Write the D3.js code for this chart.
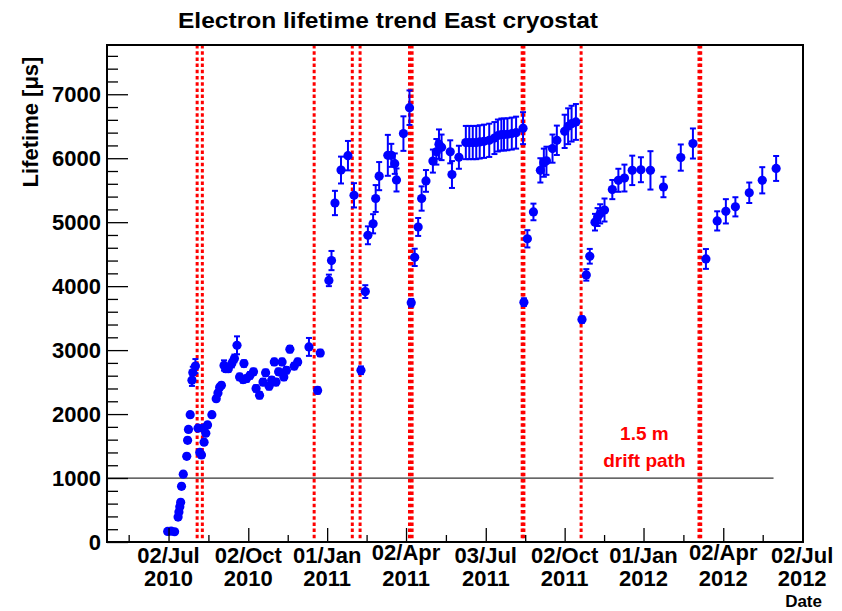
<!DOCTYPE html>
<html>
<head>
<meta charset="utf-8">
<script src="https://cdn.jsdelivr.net/npm/d3@7"></script>
<style>
  html, body { margin: 0; padding: 0; background: #fff; }
  svg { display: block; }
  text { font-family: "Liberation Sans", Arial, Helvetica, sans-serif; font-weight: bold; }
</style>
</head>
<body>
<svg id="chart" width="842" height="611"></svg>
<script>
// Measurement dates (UTC, YYYY-MM-DD)
const dates = [
  "2010-07-01","2010-07-05","2010-07-09","2010-07-13","2010-07-14","2010-07-15","2010-07-16","2010-07-17",
  "2010-07-19","2010-07-23","2010-07-24","2010-07-25","2010-07-27","2010-07-29","2010-07-30","2010-08-02",
  "2010-08-05","2010-08-07","2010-08-09","2010-08-11","2010-08-12","2010-08-14","2010-08-16","2010-08-21",
  "2010-08-26","2010-08-28","2010-08-30","2010-09-01","2010-09-04","2010-09-06","2010-09-09","2010-09-13",
  "2010-09-16","2010-09-19","2010-09-22","2010-09-26","2010-09-27","2010-09-30","2010-10-04","2010-10-08",
  "2010-10-11","2010-10-15","2010-10-19","2010-10-22","2010-10-26","2010-10-29","2010-11-01","2010-11-03",
  "2010-11-06","2010-11-10","2010-11-12","2010-11-15","2010-11-19","2010-11-24","2010-11-28","2010-12-11",
  "2010-12-21","2010-12-24",
  "2011-01-03","2011-01-06","2011-01-10","2011-01-17","2011-01-25","2011-02-01","2011-02-09","2011-02-14",
  "2011-02-17","2011-02-23","2011-02-26","2011-03-02","2011-03-12","2011-03-16","2011-03-20","2011-03-22",
  "2011-03-30","2011-04-06","2011-04-08","2011-04-12","2011-04-16","2011-04-20","2011-04-25","2011-05-03",
  "2011-05-07","2011-05-10","2011-05-13","2011-05-23","2011-05-25","2011-06-02","2011-06-10","2011-06-14",
  "2011-06-18","2011-06-22","2011-06-26","2011-07-01","2011-07-07","2011-07-13","2011-07-17","2011-07-21",
  "2011-07-24","2011-07-28","2011-08-02","2011-08-07","2011-08-15","2011-08-16","2011-08-20","2011-08-27",
  "2011-09-04","2011-09-08","2011-09-11","2011-09-18","2011-09-23","2011-10-02","2011-10-06","2011-10-10",
  "2011-10-15","2011-10-22","2011-10-27","2011-10-31","2011-11-06","2011-11-09","2011-11-12","2011-11-17",
  "2011-11-26","2011-12-03","2011-12-10","2011-12-19","2011-12-29",
  "2012-01-09","2012-01-24","2012-02-13","2012-02-27","2012-03-13","2012-03-26","2012-04-05","2012-04-16",
  "2012-05-02","2012-05-17","2012-06-02"
];

// Electron lifetime [us]
const lifetimes = [
  165, 170, 160, 390, 470, 550, 620, 870,
  1060, 1340, 1590, 1760, 1990, 2530, 2650, 2750,
  1780, 1400, 1360, 1780, 1560, 1700, 1830, 1990,
  2240, 2330, 2420, 2450, 2760, 2710, 2710, 2790,
  2870, 3075, 2580, 2540, 2790, 2555, 2605, 2660,
  2400, 2295, 2500, 2645, 2435, 2530, 2815, 2500,
  2660, 2815, 2580, 2685, 3015, 2750, 2815, 3050,
  2370, 2955,
  4090, 4400, 5300, 5815, 6040, 5420, 2685, 3915,
  4795, 4975, 5370, 5720, 6045, 6045, 5915, 5660,
  6385, 6790, 3740, 4450, 4925, 5370, 5645, 5955,
  6100, 6220, 6170, 6100, 5745, 6015, 6245, 6245,
  6245, 6245, 6255, 6265, 6280, 6315, 6355, 6370,
  6370, 6375, 6385, 6400, 6470, 3750, 4740, 5160,
  5810, 5930, 5960, 6150, 6280, 6420, 6500, 6540,
  6567, 3477, 4176, 4467, 5000, 5080, 5130, 5190,
  5510, 5655, 5690, 5810, 5820,
  5810, 5550, 6010, 6230, 4425, 5020, 5170, 5240,
  5460, 5655, 5840
];

// Uncertainty on each lifetime [us]
const errors = [
  30, 30, 30, 40, 40, 40, 40, 40,
  40, 40, 40, 40, 40, 90, 90, 110,
  40, 40, 40, 40, 40, 40, 40, 40,
  40, 40, 40, 40, 80, 50, 50, 60,
  60, 140, 50, 50, 50, 50, 50, 50,
  50, 50, 50, 50, 50, 50, 50, 50,
  50, 50, 50, 50, 50, 50, 50, 140,
  50, 50,
  90, 150, 190, 210, 230, 190, 60, 100,
  140, 150, 210, 220, 320, 180, 160, 180,
  270, 270, 60, 135, 140, 190, 170, 180,
  200, 230, 200, 180, 210, 180, 260, 260,
  260, 260, 260, 260, 260, 250, 250, 250,
  250, 250, 250, 250, 250, 60, 135, 130,
  190, 220, 220, 220, 230, 260, 280, 280,
  280, 50, 90, 115, 130, 140, 150, 180,
  150, 180, 210, 230, 195,
  300, 160, 205, 235, 155, 150, 190, 150,
  160, 205, 195
];

// Interventions on the cryostat (vertical markers)
const eventDates = [
  "2010-08-04","2010-08-10","2010-12-17","2011-01-30","2011-02-08",
  "2011-04-06","2011-04-09","2011-08-14","2011-08-16","2011-10-21",
  "2012-03-05","2012-03-07"
];

// Time-axis labels
const tickDates = ["2010-07-02","2010-10-02","2011-01-01","2011-04-02","2011-07-03",
                   "2011-10-02","2012-01-01","2012-04-02","2012-07-02"];
const tickDayLabels = ["02/Jul","02/Oct","01/Jan","02/Apr","03/Jul","02/Oct","01/Jan","02/Apr","02/Jul"];
const tickYearLabels = ["2010","2010","2011","2011","2011","2011","2012","2012","2012"];

const yMajorTicks = [0, 1000, 2000, 3000, 4000, 5000, 6000, 7000];

// Reference level for the 1.5 m drift path
const driftLevel = 1000;
const driftLineEnd = "2012-05-30";
const driftLabelDate = "2012-01-02";
const driftLabelLines = ["1.5 m", "drift path"];
const driftLabelValues = [1590, 1175];

const parse = d3.utcParse("%Y-%m-%d");
const points = dates.map((d, i) => ({ t: parse(d), v: lifetimes[i], e: errors[i] }));

const svg = d3.select("#chart");
const L = 107, R = 803, T = 45, B = 542;

const x = d3.scaleUtc()
  .domain([parse("2010-04-22"), parse("2012-07-03")])
  .range([L, R]);
const y = d3.scaleLinear().domain([0, 7770]).range([B, T]);

// Title
svg.append("text")
  .attr("x", 388).attr("y", 28)
  .attr("text-anchor", "middle")
  .attr("font-size", 22)
  .attr("textLength", 420)
  .attr("lengthAdjust", "spacingAndGlyphs")
  .text("Electron lifetime trend East cryostat");

// Reference line at 1000 us
svg.append("line")
  .attr("x1", x.range()[0]).attr("x2", x(parse(driftLineEnd)))
  .attr("y1", y(driftLevel)).attr("y2", y(driftLevel))
  .attr("stroke", "#333").attr("stroke-width", 1.2);

// Event markers
svg.append("g").selectAll("line")
  .data(eventDates.map(parse))
  .join("line")
  .attr("x1", d => x(d)).attr("x2", d => x(d))
  .attr("y1", T).attr("y2", B)
  .attr("stroke", "#ff0000").attr("stroke-width", 3)
  .attr("stroke-dasharray", "3.5,2.7");

// Drift path annotation
svg.append("g").selectAll("text")
  .data(driftLabelLines)
  .join("text")
  .attr("x", x(parse(driftLabelDate)))
  .attr("y", (d, i) => y(driftLabelValues[i]))
  .attr("text-anchor", "middle")
  .attr("font-size", 19)
  .attr("fill", "#ff0000")
  .text(d => d);

// Error bars with end caps
const eb = svg.append("g").attr("stroke", "#0000ff").attr("stroke-width", 2);
eb.selectAll("line.bar")
  .data(points)
  .join("line").attr("class", "bar")
  .attr("x1", d => x(d.t)).attr("x2", d => x(d.t))
  .attr("y1", d => y(d.v - d.e)).attr("y2", d => y(d.v + d.e));
eb.selectAll("line.capHi")
  .data(points)
  .join("line").attr("class", "capHi")
  .attr("x1", d => x(d.t) - 3).attr("x2", d => x(d.t) + 3)
  .attr("y1", d => y(d.v + d.e)).attr("y2", d => y(d.v + d.e));
eb.selectAll("line.capLo")
  .data(points)
  .join("line").attr("class", "capLo")
  .attr("x1", d => x(d.t) - 3).attr("x2", d => x(d.t) + 3)
  .attr("y1", d => y(d.v - d.e)).attr("y2", d => y(d.v - d.e));

// Markers
svg.append("g").selectAll("circle")
  .data(points)
  .join("circle")
  .attr("cx", d => x(d.t)).attr("cy", d => y(d.v))
  .attr("r", 4.6)
  .attr("fill", "#0000ff");

// Y axis
const yAxis = d3.axisRight(y)
  .tickValues(d3.range(0, 7770, 200))
  .tickSize(0)
  .tickFormat("");
const gy = svg.append("g").attr("transform", `translate(${L},0)`).call(yAxis);
gy.select(".domain").remove();
gy.selectAll(".tick line")
  .attr("x2", d => (d % 1000 === 0 ? 21 : 11))
  .attr("stroke", "#000").attr("stroke-width", 1.3);
svg.append("g").selectAll("text")
  .data(yMajorTicks)
  .join("text")
  .attr("x", 101).attr("y", d => y(d))
  .attr("dy", "0.36em")
  .attr("text-anchor", "end")
  .attr("font-size", 22)
  .text(d => d);

// X axis: major ticks at the labels, secondary ticks halfway between
const majorT = tickDates.map(parse);
const half = (majorT[1] - majorT[0]) / 2;
const minorT = [new Date(+majorT[0] - half)].concat(
  majorT.slice(1).map((t, i) => new Date((+t + +majorT[i]) / 2)));
const xAxis = d3.axisTop(x).tickValues(majorT.concat(minorT)).tickSize(0).tickFormat("");
const gx = svg.append("g").attr("transform", `translate(0,${B})`).call(xAxis);
gx.select(".domain").remove();
gx.selectAll(".tick line")
  .attr("y2", (d, i) => (i < majorT.length ? -14 : -7))
  .attr("stroke", "#000").attr("stroke-width", 1.3);

const xl = svg.append("g").selectAll("g")
  .data(majorT)
  .join("g")
  .attr("transform", d => `translate(${x(d)},0)`);
// the "Apr" labels sit a little higher, as the plotting package set them
xl.append("text")
  .attr("y", (d, i) => (tickDayLabels[i].includes("Apr") ? 560 : 563))
  .attr("text-anchor", "middle").attr("font-size", 22)
  .text((d, i) => tickDayLabels[i]);
xl.append("text")
  .attr("y", 586).attr("text-anchor", "middle").attr("font-size", 22)
  .text((d, i) => tickYearLabels[i]);

// Frame
svg.append("rect")
  .attr("x", L).attr("y", T).attr("width", R - L).attr("height", B - T)
  .attr("fill", "none").attr("stroke", "#000").attr("stroke-width", 2);

// Axis titles
svg.append("text")
  .attr("transform", `translate(38,${122}) rotate(-90)`)
  .attr("text-anchor", "middle")
  .attr("font-size", 22)
  .text("Lifetime [\u03bcs]");
svg.append("text")
  .attr("x", 822).attr("y", 607)
  .attr("text-anchor", "end")
  .attr("font-size", 17)
  .text("Date");
</script>
</body>
</html>
